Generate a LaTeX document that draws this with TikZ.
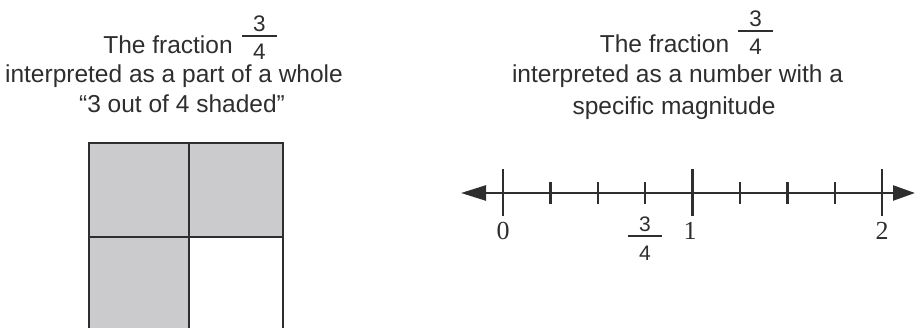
\documentclass[tikz,border=0pt]{standalone}
\usepackage{fontspec}
\setmainfont{Liberation Sans}
\newfontfamily\numserif{Liberation Serif}
\usetikzlibrary{arrows.meta}
\definecolor{ink}{HTML}{2E2E2E}
\definecolor{cellgray}{HTML}{CBCBCD}
\tikzset{
  title/.style={anchor=base, inner sep=0pt, text=ink, font=\fontsize{24.5}{28}\selectfont},
  fracdigit/.style={anchor=base, inner sep=0pt, text=ink, font=\fontsize{22.5}{26}\selectfont},
  smalldigit/.style={anchor=center, inner sep=0pt, text=ink, font=\fontsize{21}{24}\selectfont},
  numlabel/.style={anchor=north, inner sep=0pt, text=ink, font=\numserif\fontsize{26}{30}\selectfont},
  gridline/.style={draw=ink, line width=2.6pt},
  cell/.style={fill=cellgray, draw=none},
  axis/.style={draw=ink, line width=2.4pt, {Triangle[length=25pt,width=15pt]}-{Triangle[length=22pt,width=15pt]}},
  majortick/.style={draw=ink, line width=2.4pt},
  minortick/.style={draw=ink, line width=2.4pt},
  fracbar/.style={draw=ink, line width=1.2pt}
}
\begin{document}
\begin{tikzpicture}[x=1pt,y=-1pt]
\useasboundingbox (0,0) rectangle (915,328);
% ---------- left title ----------
\node[title] (l1) at (168,54) {The fraction};
\node[fracdigit] (lnum) at (259.5,32) {3};
\node[fracdigit] (lden) at (259.5,60) {4};
\coordinate (lbarA) at (242,36);
\coordinate (lbarB) at (277,36);
\draw[fracbar] (lbarA) -- (lbarB);
\node[title] (l2) at (174,83) {interpreted as a part of a whole};
\node[title] (l3) at (182,113) {“3 out of 4 shaded”};
% ---------- grid ----------
\path[cell] (89,143) rectangle (283,237);
\path[cell] (89,237) rectangle (189,328);
\coordinate (gTL) at (89,143);
\coordinate (gTR) at (283,143);
\coordinate (gBL) at (89,330);
\coordinate (gBR) at (283,330);
\coordinate (gTM) at (189,143);
\coordinate (gBM) at (189,330);
\coordinate (gML) at (89,237);
\coordinate (gMR) at (283,237);
\draw[gridline] (gBL) -- (gTL) -- (gTR) -- (gBR);
\draw[gridline] (gTM) -- (gBM);
\draw[gridline] (gML) -- (gMR);
% ---------- right title ----------
\node[title] (r1) at (664.5,53) {The fraction};
\node[fracdigit] (rnum) at (755.5,27) {3};
\node[fracdigit] (rden) at (755.5,55) {4};
\coordinate (rbarA) at (738,31);
\coordinate (rbarB) at (773,31);
\draw[fracbar] (rbarA) -- (rbarB);
\node[title] (r2) at (677.5,83) {interpreted as a number with a};
\node[title] (r3) at (674,115) {specific magnitude};
% ---------- number line ----------
\coordinate (axL) at (461,193);
\coordinate (axR) at (915,193);
\draw[axis] (axL) -- (axR);
\foreach \k in {0,...,8}{
  \pgfmathsetmacro{\xx}{503+47.4*\k}
  \coordinate (t\k) at (\xx,193);
}
\foreach \k in {1,2,3,5,6,7}{
  \draw[minortick] ([yshift=-11pt]t\k) -- ([yshift=11pt]t\k);
}
\foreach \k in {0,4,8}{
  \draw[majortick] ([yshift=-23pt]t\k) -- ([yshift=24pt]t\k);
}
\node[numlabel] (n0) at (503,222) {0};
\node[numlabel] (n1) at (690,222) {1};
\node[numlabel] (n2) at (882,222) {2};
\node[smalldigit] (fnum) at (645,224) {3};
\node[smalldigit] (fden) at (645,253) {4};
\coordinate (fbarA) at (628,236);
\coordinate (fbarB) at (662,236);
\draw[fracbar] (fbarA) -- (fbarB);
\end{tikzpicture}
\end{document}
